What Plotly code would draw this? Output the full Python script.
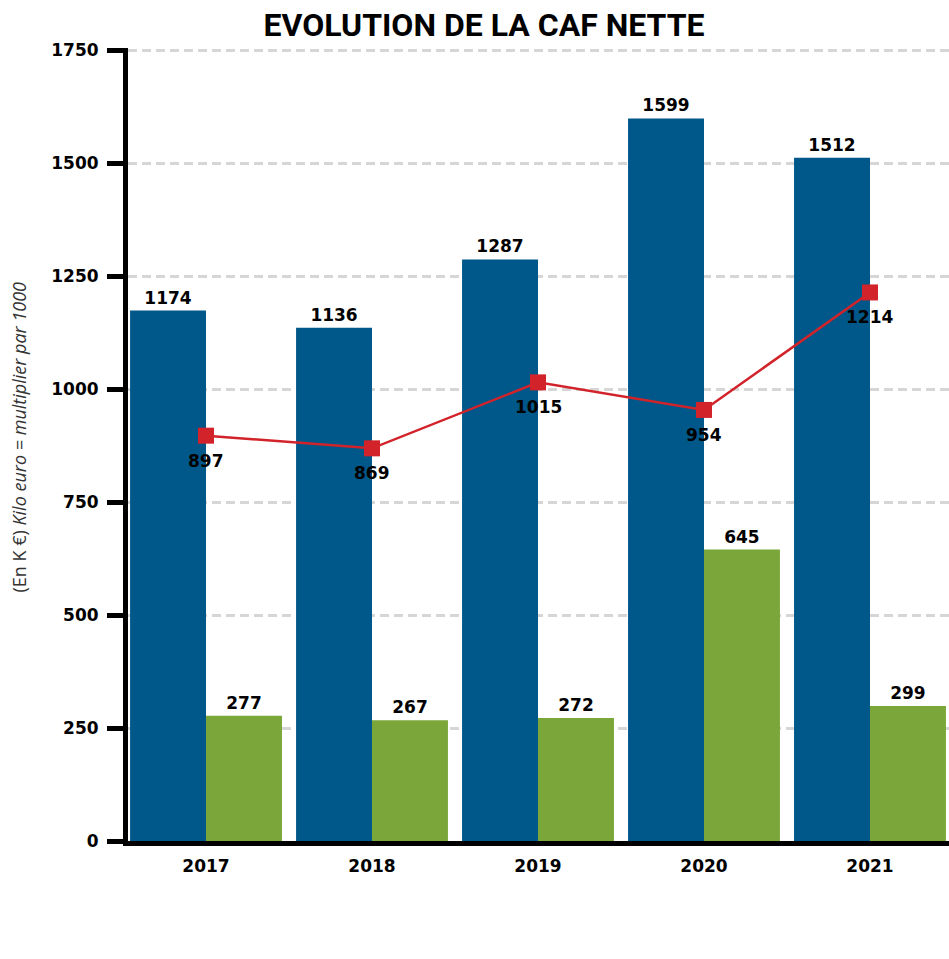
import plotly.graph_objects as go

years = ['2017', '2018', '2019', '2020', '2021']
caf_brute = [1174, 1136, 1287, 1599, 1512]
annuite = [277, 267, 272, 645, 299]
caf_nette = [897, 869, 1015, 954, 1214]

blue = '#00578a'
green = '#7aa63a'
red = '#d2232a'
font = 'DejaVu Sans'
label_font = dict(family=font, size=17, color='black', weight='bold')

fig = go.Figure()

fig.add_trace(go.Bar(
    x=years, y=caf_brute, name='CAF brute',
    marker=dict(color=blue, line=dict(width=0)),
    text=caf_brute, textposition='outside', cliponaxis=False,
    textfont=label_font,
))
fig.add_trace(go.Bar(
    x=years, y=annuite, name='Annuité',
    marker=dict(color=green, line=dict(width=0)),
    text=annuite, textposition='outside', cliponaxis=False,
    textfont=label_font,
))
fig.add_trace(go.Scatter(
    x=years, y=caf_nette, name='CAF nette',
    mode='lines+markers',
    line=dict(color=red, width=2.5),
    marker=dict(symbol='square', size=16, color=red),
    cliponaxis=False,
))

# labels under the red squares (category axis -> use index)
for i, v in enumerate(caf_nette):
    fig.add_annotation(x=i, y=v, text=str(v), showarrow=False,
                       yanchor='middle', yshift=-25, font=label_font)

fig.update_layout(
    width=949, height=959,
    margin=dict(l=128, r=0, t=48, b=118),
    plot_bgcolor='white', paper_bgcolor='white',
    barmode='group', bargap=0.085, bargroupgap=0,
    showlegend=False,
    title=dict(
        text='<b>EVOLUTION DE LA CAF NETTE</b>',
        font=dict(family='Roboto', size=32, color='black'),
        x=0.51, xanchor='center', y=0.974, yanchor='middle',
    ),
    font=dict(family=font, color='black'),
)

fig.update_xaxes(
    type='category',
    range=[-0.47, 4.476],
    showline=True, linewidth=5, linecolor='black',
    ticks='', showgrid=False, ticklabelstandoff=6,
    tickfont=label_font,
)
# range a bit above 1750 so the top gridline is still drawn
fig.update_yaxes(
    range=[0, 1755], tickvals=[0, 250, 500, 750, 1000, 1250, 1500, 1750],
    showline=True, linewidth=5, linecolor='black',
    ticks='outside', ticklen=16, tickwidth=5, tickcolor='black',
    showgrid=True, gridcolor='#d6d6d6', gridwidth=2.5, griddash='9px,5px',
    zeroline=False, layer='above traces', ticklabelstandoff=5,
    tickfont=label_font,
)

fig.add_annotation(
    text='(En K €) <i>Kilo euro = multiplier par 1000</i>',
    xref='paper', yref='paper', x=0, y=0.5,
    xanchor='center', yanchor='middle', xshift=-110, yshift=7,
    textangle=-90, showarrow=False,
    font=dict(family='Open Sans', size=18, color='#333333'),
)

# drop the default page margin so the figure fills the window
fig.write_html('out.html', config={'displayModeBar': False},
               post_script="document.body.style.margin='0';"
               "document.body.style.overflow='hidden';")
